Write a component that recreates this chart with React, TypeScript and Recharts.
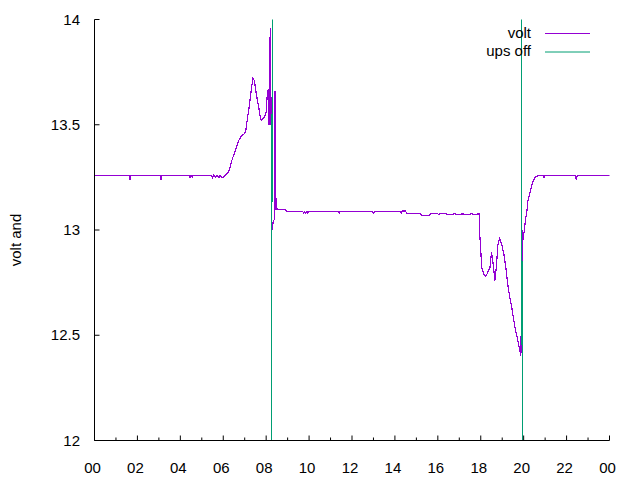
import React from 'react';
import { LineChart, Line, XAxis, YAxis, Legend } from 'recharts';

// hours of the day and battery voltage
const HOURS = [
  0, 1.6, 1.65, 1.7, 3.05, 3.1, 3.15, 4.4, 4.45, 4.5, 4.55, 4.6, 5.45, 5.5, 5.55, 5.65, 5.7,
  5.8, 5.85, 5.95, 6.0, 6.1, 6.2, 6.3, 6.4, 6.5, 6.6, 6.7, 6.8, 6.9, 7.0, 7.05, 7.1, 7.2, 7.3,
  7.38, 7.45, 7.52, 7.6, 7.66, 7.72, 7.78, 7.85, 7.94, 8.0, 8.05, 8.1, 8.13, 8.16, 8.2, 8.23,
  8.27, 8.33, 8.38, 8.41, 8.43, 8.46, 8.9, 8.95, 9.7, 9.75, 9.8, 9.85, 9.9, 9.95, 10.0, 10.05,
  11.35, 11.4, 11.45, 12.95, 13.0, 13.05, 14.25, 14.3, 14.35, 14.5, 14.55, 15.2, 15.25, 15.6,
  15.65, 16.0, 16.05, 16.1, 16.4, 16.45, 16.8, 16.85, 17.2, 17.25, 17.6, 17.65, 17.93, 17.96,
  18.0, 18.05, 18.14, 18.24, 18.33, 18.43, 18.5, 18.56, 18.66, 18.73, 18.8, 18.88, 18.98,
  19.07, 19.17, 19.26, 19.35, 19.45, 19.54, 19.63, 19.73, 19.82, 19.87, 19.9, 19.95, 19.98,
  20.03, 20.1, 20.15, 20.2, 20.3, 20.4, 20.5, 20.6, 20.7, 20.9, 20.95, 21.0, 22.4, 22.45,
  22.5, 24,
];

const VOLTS = [
  13.26, 13.26, 13.24, 13.26, 13.26, 13.24, 13.26, 13.26, 13.25, 13.26, 13.25, 13.26, 13.26,
  13.25, 13.26, 13.25, 13.26, 13.25, 13.26, 13.25, 13.25, 13.26, 13.27, 13.29, 13.33, 13.36,
  13.39, 13.42, 13.44, 13.45, 13.46, 13.47, 13.51, 13.58, 13.66, 13.72, 13.71, 13.66, 13.61,
  13.58, 13.54, 13.52, 13.53, 13.54, 13.56, 13.64, 13.67, 13.5, 13.85, 13.96, 13.5, 13.0,
  13.04, 13.05, 13.66, 13.38, 13.1, 13.097, 13.088, 13.088, 13.08, 13.088, 13.08, 13.088,
  13.08, 13.088, 13.088, 13.088, 13.08, 13.088, 13.088, 13.08, 13.088, 13.088, 13.082,
  13.09, 13.09, 13.077, 13.077, 13.069, 13.069, 13.077, 13.077, 13.072, 13.077, 13.077,
  13.072, 13.077, 13.072, 13.077, 13.072, 13.077, 13.072, 13.077, 12.97, 12.9, 12.82, 12.79,
  12.78, 12.8, 12.82, 12.895, 12.855, 12.76, 12.83, 12.93, 12.96, 12.93, 12.89, 12.82, 12.74,
  12.68, 12.63, 12.57, 12.52, 12.475, 12.43, 12.4, 12.66, 13.0, 12.955, 13.0, 13.06, 13.09,
  13.14, 13.18, 13.22, 13.245, 13.255, 13.26, 13.26, 13.25, 13.26, 13.26, 13.24, 13.26, 13.26,
];

// ups off flag: sits below the range while on mains, above it while the ups is off
const UPS_HOURS = [0, 8.22, 8.31, 19.87, 19.96, 24];
const UPS_LEVEL = [11, 11, 15, 15, 11, 11];

const HOUR_TICKS = Array.from({ length: 25 }, (_, i) => i);
const VOLT_TICKS = [12, 12.5, 13, 13.5, 14];

const SERIES = [
  { name: 'volt', color: '#9400d3' },
  { name: 'ups off', color: '#009e73' },
];

const voltData = HOURS.map((t, i) => ({ t, v: VOLTS[i] }));
const upsData = UPS_HOURS.map((t, i) => ({ t, v: UPS_LEVEL[i] }));

const FONT = '"Liberation Sans", Arial, sans-serif';

const hourLabel = (h: number) => String(h % 24).padStart(2, '0');

const BottomTick = ({ x, y, payload }: any) => {
  const major = payload.value % 2 === 0;
  return (
    <g>
      <line x1={x} x2={x} y1={y} y2={y - (major ? 5 : 3)} stroke="#000" />
      {major && (
        <text x={x - 2} y={y + 32.5} textAnchor="middle" fontSize={15} fontFamily={FONT} fill="#000">
          {hourLabel(payload.value)}
        </text>
      )}
    </g>
  );
};

const TopTick = ({ x, y, payload }: any) => {
  const major = payload.value % 2 === 0;
  return <line x1={x} x2={x} y1={y} y2={y + (major ? 5 : 3)} stroke="#000" />;
};

const LeftTick = ({ x, y, payload }: any) => (
  <g>
    <line x1={x} x2={x + 5} y1={y} y2={y} stroke="#000" />
    <text x={x - 14.5} y={y + 5} textAnchor="end" fontSize={15} fontFamily={FONT} fill="#000">
      {payload.value}
    </text>
  </g>
);

const RightTick = ({ x, y }: any) => <line x1={x} x2={x - 5} y1={y} y2={y} stroke="#000" />;

// gnuplot style key: name right-aligned, sample line to its right
const KeyBox = () => (
  <svg width={200} height={44} style={{ display: 'block' }}>
    {SERIES.map((s, i) => (
      <g key={s.name}>
        <text x={131} y={19 + i * 17.5} textAnchor="end" fontSize={15} fontFamily={FONT} fill="#000">
          {s.name}
        </text>
        <line x1={145} x2={190} y1={14.5 + i * 18.5} y2={14.5 + i * 18.5} stroke={s.color} />
      </g>
    ))}
  </svg>
);

export default function App() {
  return (
    <div style={{ width: 640, height: 480, background: '#fff' }}>
      <style>{'body { margin: 0; }'}</style>
      <LineChart width={640} height={480} margin={{ top: 19.5, right: 30.5, bottom: 0, left: 34.5 }}>
        <XAxis
          dataKey="t"
          type="number"
          domain={[0, 24]}
          ticks={HOUR_TICKS}
          interval={0}
          allowDataOverflow
          height={39.5}
          tickSize={0}
          tickMargin={0}
          tickLine={false}
          axisLine={{ stroke: '#000' }}
          tick={<BottomTick />}
        />
        <XAxis
          xAxisId="top"
          orientation="top"
          dataKey="t"
          type="number"
          domain={[0, 24]}
          ticks={HOUR_TICKS}
          interval={0}
          height={0}
          tickSize={0}
          tickMargin={0}
          tickLine={false}
          axisLine={{ stroke: '#000' }}
          tick={<TopTick />}
        />
        <YAxis
          type="number"
          domain={[12, 14]}
          ticks={VOLT_TICKS}
          interval={0}
          allowDataOverflow
          width={60}
          tickSize={0}
          tickMargin={0}
          tickLine={false}
          axisLine={{ stroke: '#000' }}
          tick={<LeftTick />}
        />
        <YAxis
          yAxisId="right"
          orientation="right"
          type="number"
          domain={[12, 14]}
          ticks={VOLT_TICKS}
          interval={0}
          width={0}
          tickSize={0}
          tickMargin={0}
          tickLine={false}
          axisLine={{ stroke: '#000' }}
          tick={<RightTick />}
        />
        <Legend
          layout="vertical"
          align="center"
          verticalAlign="middle"
          wrapperStyle={{ position: 'absolute', left: 400, top: 19, width: 200, height: 44 }}
          content={<KeyBox />}
        />
        <Line
          data={voltData}
          dataKey="v"
          name={SERIES[0].name}
          type="linear"
          stroke={SERIES[0].color}
          strokeWidth={1.2}
          shapeRendering="crispEdges"
          dot={false}
          isAnimationActive={false}
        />
        <Line
          data={upsData}
          dataKey="v"
          name={SERIES[1].name}
          type="linear"
          stroke={SERIES[1].color}
          strokeWidth={1.2}
          shapeRendering="crispEdges"
          dot={false}
          isAnimationActive={false}
        />
      </LineChart>
      <svg
        width={40}
        height={480}
        style={{ position: 'absolute', left: 0, top: 0, pointerEvents: 'none' }}
      >
        <text
          x={21}
          y={240}
          transform="rotate(-90 21 240)"
          textAnchor="middle"
          fontSize={15}
          fontFamily={FONT}
          fill="#000"
        >
          volt and
        </text>
      </svg>
    </div>
  );
}
